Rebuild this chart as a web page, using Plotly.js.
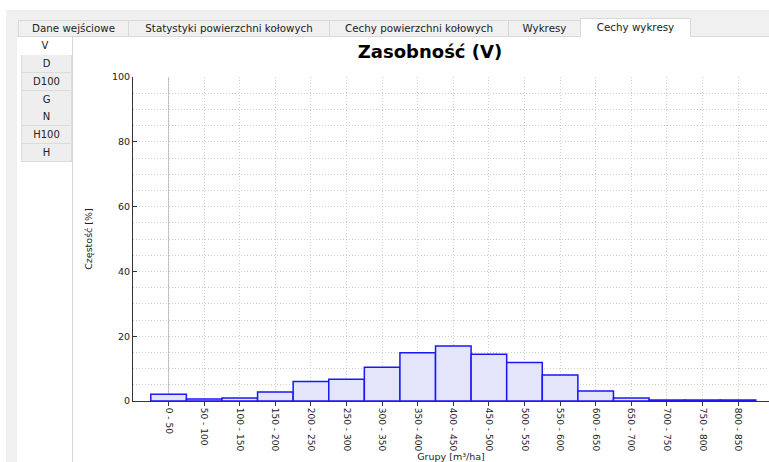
<!DOCTYPE html>
<html>
<head>
<meta charset="utf-8">
<script src="https://cdn.plot.ly/plotly-3.0.1.min.js"></script>
<style>
  html, body { margin: 0; padding: 0; background: #ffffff; width: 769px; height: 462px; overflow: hidden; font-family: "DejaVu Sans", sans-serif; }
  #frame { position: absolute; left: 6px; top: 10px; width: 763px; height: 452px; background: #f0f0f0; }
  #content { position: absolute; left: 17px; top: 36px; width: 752px; height: 426px; background: #ffffff; border-top: 1px solid #d9d9d9; box-sizing: border-box; }
  .tab { position: absolute; top: 20px; height: 16px; box-sizing: border-box; border: 1px solid #d9d9d9; border-bottom: none; background: #f0f0f0; color: #222; font-size: 10.3px; line-height: 15px; text-align: center; white-space: nowrap; }
  .tab.active { top: 18px; height: 19px; background: #ffffff; line-height: 17px; z-index: 3; }
  #sidepanel { position: absolute; left: 17px; top: 37px; width: 55px; height: 425px; background: #ffffff; border-right: 1px solid #d6d6d6; }
  .side { position: absolute; left: 21px; width: 51px; height: 18px; box-sizing: border-box; border: 1px solid #dcdcdc; border-top: none; background: #eeeeee; color: #222; font-size: 10px; line-height: 17px; text-align: center; }
  .side.active { left: 18px; width: 54px; background: #ffffff; border: none; }
  #chart { position: absolute; left: 0; top: 0; width: 769px; height: 462px; z-index: 5; }
</style>
</head>
<body>
<div id="frame"></div>
<div id="content"></div>
<div id="sidepanel"></div>
<div id="tabs"></div>
<div id="sides"></div>
<div id="chart"></div>
<script>
// ---- data ----
const tabNames = ["Dane wejściowe", "Statystyki powierzchni kołowych", "Cechy powierzchni kołowych", "Wykresy", "Cechy wykresy"];
const sideNames = ["V", "D", "D100", "G", "N", "H100", "H"];
const categories = ["0 - 50", "50 - 100", "100 - 150", "150 - 200", "200 - 250", "250 - 300", "300 - 350", "350 - 400", "400 - 450", "450 - 500", "500 - 550", "550 - 600", "600 - 650", "650 - 700", "700 - 750", "750 - 800", "800 - 850"];
const frequency = [2.1, 0.6, 0.9, 2.8, 6.0, 6.7, 10.4, 14.9, 17.0, 14.4, 11.9, 8.0, 3.1, 0.9, 0.3, 0.3, 0.3];
const yTicks = [0, 20, 40, 60, 80, 100];
const chartTitle = "Zasobność (V)";
const xTitle = "Grupy [m³/ha]";
const yTitle = "Częstość [%]";

// ---- UI chrome (tabs) ----
const tabEdges = [18, 128, 329, 508, 580, 690];
const tabsDiv = document.getElementById("tabs");
tabNames.forEach((name, i) => {
  const d = document.createElement("div");
  d.className = "tab" + (i === tabNames.length - 1 ? " active" : "");
  d.style.left = tabEdges[i] + "px";
  d.style.width = (tabEdges[i + 1] - tabEdges[i] + 1) + "px";
  d.textContent = name;
  tabsDiv.appendChild(d);
});
const sidesDiv = document.getElementById("sides");
sideNames.forEach((name, i) => {
  const d = document.createElement("div");
  d.className = "side" + (i === 0 ? " active" : "");
  if (i === 0) { d.style.top = "37px"; d.style.height = "18px"; }
  else { d.style.top = (55 + (i - 1) * 17.8) + "px"; }
  d.textContent = name;
  sidesDiv.appendChild(d);
});

// ---- chart ----
const gridColor = "#cfcfcf";
const gridDash = "1px,2px";
const axisColor = "#333333";
const tickFont = { family: "DejaVu Sans, sans-serif", size: 9, color: "#222" };

const trace = {
  type: "bar",
  x: categories,
  y: frequency,
  width: 1,
  marker: { color: "rgb(228,228,250)", line: { color: "rgb(25,25,245)", width: 1.5 } },
  hoverinfo: "x+y"
};

const layout = {
  width: 769,
  height: 462,
  paper_bgcolor: "rgba(0,0,0,0)",
  plot_bgcolor: "#ffffff",
  margin: { l: 133, r: 0, t: 77, b: 61 },
  showlegend: false,
  bargap: 0,
  title: {
    text: chartTitle,
    font: { family: "DejaVu Sans, sans-serif", size: 18, color: "#000", weight: "bold" },
    xref: "container", yref: "container",
    x: 430 / 769, xanchor: "center",
    y: 1 - 52 / 462, yanchor: "middle"
  },
  xaxis: {
    type: "category",
    range: [-1, 16.87],
    tickangle: 90,
    ticks: "outside",
    ticklen: 4,
    tickcolor: axisColor,
    tickfont: tickFont,
    showline: true,
    linecolor: axisColor,
    linewidth: 1,
    showgrid: true,
    gridcolor: gridColor,
    griddash: gridDash,
    zeroline: false,
    fixedrange: true,
    title: { text: xTitle, font: { family: "DejaVu Sans, sans-serif", size: 9.5, color: "#222" }, standoff: 1 },
    automargin: false
  },
  yaxis: {
    range: [0, 100],
    tickmode: "array",
    tickvals: yTicks,
    ticktext: yTicks.map(String),
    ticks: "inside",
    ticklen: 4,
    tickcolor: axisColor,
    tickfont: { family: "DejaVu Sans, sans-serif", size: 9.5, color: "#222" },
    showline: true,
    linecolor: axisColor,
    linewidth: 1,
    showgrid: true,
    gridcolor: gridColor,
    griddash: gridDash,
    minor: { dtick: 5, tick0: 0, showgrid: true, gridcolor: gridColor, griddash: gridDash, ticks: "" },
    zeroline: false,
    fixedrange: true,
    title: { text: yTitle, font: { family: "DejaVu Sans, sans-serif", size: 9.5, color: "#222" }, standoff: 17 },
    automargin: false
  },
  shapes: [{
    type: "line", xref: "x", yref: "paper",
    x0: categories[0], x1: categories[0], y0: 0, y1: 1,
    line: { color: "#b8b8b8", width: 1 },
    layer: "below"
  }]
};

Plotly.newPlot("chart", [trace], layout, { displayModeBar: false, staticPlot: true });
</script>
</body>
</html>
